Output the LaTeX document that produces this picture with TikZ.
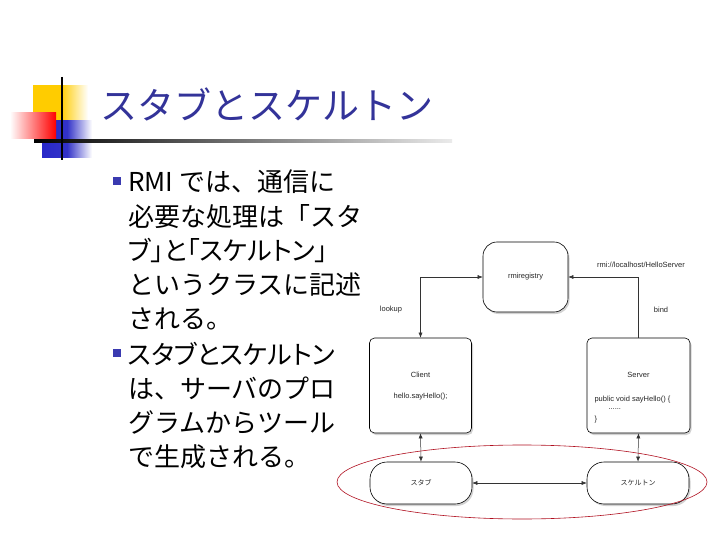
\documentclass[tikz,border=0pt]{standalone}
\usepackage{fontspec}
\setmainfont{Liberation Sans}
\newfontfamily\jp{Noto Sans CJK JP}
\newfontfamily\jpp[RawFeature=+palt]{Noto Sans CJK JP}
\usetikzlibrary{shadows,arrows.meta}
\definecolor{titleblue}{HTML}{333399}
\definecolor{bulblue}{HTML}{3A3AB0}
\definecolor{ellred}{HTML}{B01020}
\begin{document}
\begin{tikzpicture}[x=1pt,y=-1pt,
  box/.style={draw=black,line width=0.6pt,fill=white,rounded corners=5pt,
    drop shadow={opacity=0.35,shadow xshift=1.5pt,shadow yshift=-2pt}},
  pill/.style={draw=black,line width=0.6pt,fill=white,rounded corners=17pt,
    drop shadow={opacity=0.35,shadow xshift=1.5pt,shadow yshift=-2pt}},
  small/.style={font=\fontsize{7.5}{9}\selectfont,text=black!85},
  line/.style={text=black,font=\jp\fontsize{26}{26}\selectfont,anchor=base west,inner sep=0pt},
  pline/.style={line,font=\jpp\fontsize{26}{26}\selectfont},
  conn/.style={line width=0.5pt,black!80},
  tip/.style={-{Latex[length=5pt,width=4pt]}},
  dtip/.style={{Latex[length=5pt,width=4pt]}-{Latex[length=5pt,width=4pt]}}]
\useasboundingbox (0,0) rectangle (720,540);
\fill[white] (0,0) rectangle (720,540);
% title decorations
\shade[left color={rgb,255:red,255;green,204;blue,0},right color=white,middle color={rgb,255:red,255;green,204;blue,0}] (33,86) rectangle (88,121);
\shade[left color={rgb,255:red,40;green,40;blue,200},right color=white,middle color={rgb,255:red,50;green,50;blue,200}] (42,121) rectangle (92,158);
\shade[left color=white,right color=red] (10,113) rectangle (56,139);
\shade[left color=black,right color=black!8] (34,140) rectangle (452,142.5);
\draw[line width=2.2pt,black] (62,77) -- (62,160);
\node[anchor=west,inner sep=0pt,text=titleblue,font=\jp\fontsize{37}{37}\selectfont] (title) at (100,104) {スタブとスケルトン};
% bullets
\node[fill=bulblue,minimum size=8pt,inner sep=0pt] (b1) at (117,181) {};
\node[fill=bulblue,minimum size=8pt,inner sep=0pt] (b2) at (117,353) {};
\node[line] (l1) at (128,192) {RMI では、通信に};
\node[line] (l2) at (128,226) {必要な処理は「スタ};
\node[pline] (l3) at (128,260) {ブ」と「スケルトン」};
\node[line] (l4) at (128,294) {というクラスに記述};
\node[line] (l5) at (128,328) {される。};
\node[pline] (l6) at (128,364) {スタブとスケルトン};
\node[line] (l7) at (128,398) {は、サーバのプロ};
\node[line] (l8) at (128,432) {グラムからツール};
\node[line] (l9) at (128,466) {で生成される。};
% diagram
\node[box,rounded corners=14pt,minimum width=85pt,minimum height=70pt,small] (reg) at (525.5,277) {rmiregistry};
\node[box,minimum width=102pt,minimum height=95pt] (client) at (420.5,385.5) {};
\node[small] (clientt) at (420.5,375) {Client};
\node[small] (clientc) at (420.5,397) {hello.sayHello();};
\node[box,minimum width=103pt,minimum height=95pt] (server) at (638.5,385.5) {};
\node[small] (servert) at (638.5,375) {Server};
\node[small,anchor=west] (serverc1) at (591,400) {public void sayHello() \{};
\node[small,anchor=west] (serverc2) at (605,409) {......};
\node[small,anchor=west] (serverc3) at (591,420) {\}};
\node[pill,minimum width=102pt,minimum height=42pt,small,font=\jp\fontsize{7}{9}\selectfont] (stub) at (421,483) {スタブ};
\node[pill,minimum width=102pt,minimum height=42pt,small,font=\jp\fontsize{7}{9}\selectfont] (skel) at (638,483) {スケルトン};
\draw[conn,dtip] (client.north) |- (reg.west);
\draw[conn,tip] (server.north) |- (reg.east);
\draw[conn,dtip] (client.south) -- (stub.north);
\draw[conn,dtip] (server.south) -- (skel.north);
\draw[conn,dtip] (stub.east) -- (skel.west);
\node[small] (lookup) at (391,310) {lookup};
\node[small] (bind) at (661,310) {bind};
\node[small] (url) at (641,265) {rmi://localhost/HelloServer};
\draw[ellred,line width=0.6pt] (522,482) ellipse [x radius=185, y radius=37];
\end{tikzpicture}
\end{document}
